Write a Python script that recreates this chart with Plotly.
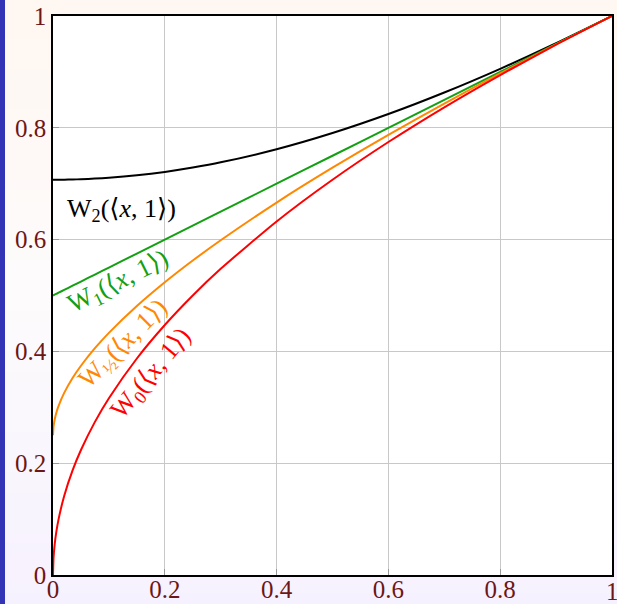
import plotly.graph_objects as go

# ---- data ----
x_vals = [0, 0.001, 0.003, 0.006, 0.01, 0.02, 0.035, 0.05, 0.075, 0.1, 0.15,
          0.2, 0.25, 0.3, 0.4, 0.5, 0.6, 0.7, 0.8, 0.9, 1.0]
w0_vals = [0, 0.0316, 0.0548, 0.0775, 0.1, 0.1414, 0.1871, 0.2236, 0.2739, 0.3162, 0.3873,
           0.4472, 0.5, 0.5477, 0.6325, 0.7071, 0.7746, 0.8367, 0.8944, 0.9487, 1.0]
whalf_vals = [0.25, 0.2661, 0.2781, 0.2903, 0.3025, 0.3257, 0.3523, 0.3743, 0.4057, 0.4331, 0.4811,
              0.5236, 0.5625, 0.5988, 0.6663, 0.7286, 0.7873, 0.8434, 0.8972, 0.9494, 1.0]
w1_vals = [0.5, 0.5005, 0.5015, 0.503, 0.505, 0.51, 0.5175, 0.525, 0.5375, 0.55, 0.575,
           0.6, 0.625, 0.65, 0.7, 0.75, 0.8, 0.85, 0.9, 0.95, 1.0]
w2_vals = [0.7071, 0.7071, 0.7071, 0.7071, 0.7072, 0.7072, 0.7075, 0.708, 0.7091, 0.7106, 0.715,
           0.7211, 0.7289, 0.7382, 0.7616, 0.7906, 0.8246, 0.8631, 0.9055, 0.9513, 1.0]
tick_vals = [0, 0.2, 0.4, 0.6, 0.8, 1]
tick_text = ["0", "0.2", "0.4", "0.6", "0.8", "1"]

series = [
    ("W2", w2_vals, "#000000"),
    ("W1", w1_vals, "#12a012"),
    ("Whalf", whalf_vals, "#ff8800"),
    ("W0", w0_vals, "#ff0000"),
]

W, H = 617, 604
ML, MR, MT, MB = 53, 5, 16, 29
PW, PH = W - ML - MR, H - MT - MB

fig = go.Figure()
for name, ys, col in series:
    fig.add_trace(go.Scatter(x=x_vals, y=ys, mode="lines", name=name,
                             line=dict(color=col, width=2, shape="spline", smoothing=0.6),
                             showlegend=False, hoverinfo="skip", cliponaxis=False))

# background gradient (peach top -> near white -> lavender bottom)
x0p, x1p = -ML / PW, 1 + MR / PW
y0p, y1p = -MB / PH, 1 + MT / PH
top = (255, 247, 241)
mid = (253, 251, 252)
bot = (246, 241, 254)
n = 60
shapes = []
for i in range(n):
    t = (i + 0.5) / n  # 0 top -> 1 bottom
    if t < 0.5:
        a, b, s = top, mid, t / 0.5
    else:
        a, b, s = mid, bot, (t - 0.5) / 0.5
    c = tuple(round(a[k] + (b[k] - a[k]) * s) for k in range(3))
    ya = y1p - (y1p - y0p) * i / n
    yb = y1p - (y1p - y0p) * (i + 1) / n
    shapes.append(dict(type="rect", xref="paper", yref="paper", x0=x0p, x1=x1p,
                       y0=yb - 0.002, y1=ya + 0.002, line=dict(width=0),
                       fillcolor="rgb(%d,%d,%d)" % c, layer="below"))
shapes.append(dict(type="rect", xref="paper", yref="paper", x0=x0p, x1=x0p + 5 / PW,
                   y0=y0p - 0.01, y1=y1p + 0.01, line=dict(width=0),
                   fillcolor="#3333b5", layer="below"))
shapes.append(dict(type="rect", xref="paper", yref="paper", x0=0, x1=1, y0=0, y1=1,
                   line=dict(width=0), fillcolor="white", layer="below"))

lab_font = "Liberation Serif, DejaVu Serif, serif"
tick_color = "#6e1616"
annos = [
    dict(x=0.122, y=0.653, text="W<sub>2</sub>(⟨<i>x</i>, 1⟩)", color="#000000", angle=0),
    dict(x=0.118, y=0.524, text="W<sub>1</sub>(⟨<i>x</i>, 1⟩)", color="#12a012", angle=-26.6),
    dict(x=0.127, y=0.413, text="W<sub>½</sub>(⟨<i>x</i>, 1⟩)", color="#ff8800", angle=-45),
    dict(x=0.176, y=0.36, text="W<sub>0</sub>(⟨<i>x</i>, 1⟩)", color="#ff0000", angle=-50),
]
annotations = []
for a in annos:
    annotations.append(dict(x=a["x"], y=a["y"], xref="x", yref="y", text=a["text"],
                            showarrow=False, textangle=a["angle"],
                            font=dict(family=lab_font, size=26, color=a["color"])))
# the last x tick label sits on the figure edge; plotly hides it, so draw it as text
annotations.append(dict(x=tick_vals[-1], y=0, xref="x", yref="paper", text=tick_text[-1],
                        showarrow=False, xanchor="center", yanchor="top", yshift=-1,
                        font=dict(family=lab_font, size=25, color=tick_color)))

axis_common = dict(range=[0, 1], tickvals=tick_vals,
                   showgrid=True, gridcolor="#c8c8c8", gridwidth=1,
                   showline=True, linecolor="black", linewidth=1.5, mirror=True,
                   ticks="inside", ticklen=6, tickcolor="#999999",
                   zeroline=False, automargin=False,
                   tickfont=dict(family=lab_font, size=25, color=tick_color))

fig.update_layout(
    width=W, height=H,
    margin=dict(l=ML, r=MR, t=MT, b=MB, pad=0),
    paper_bgcolor="#fdfbfc", plot_bgcolor="white",
    xaxis=dict(**axis_common, ticktext=tick_text[:-1] + [""], ticklabelstandoff=-9),
    yaxis=dict(**axis_common, ticktext=tick_text),
    shapes=shapes, annotations=annotations,
)
fig.write_html("out.html", config={"responsive": False, "displayModeBar": False},
               post_script="document.body.style.margin='0';document.body.style.overflow='hidden';")
